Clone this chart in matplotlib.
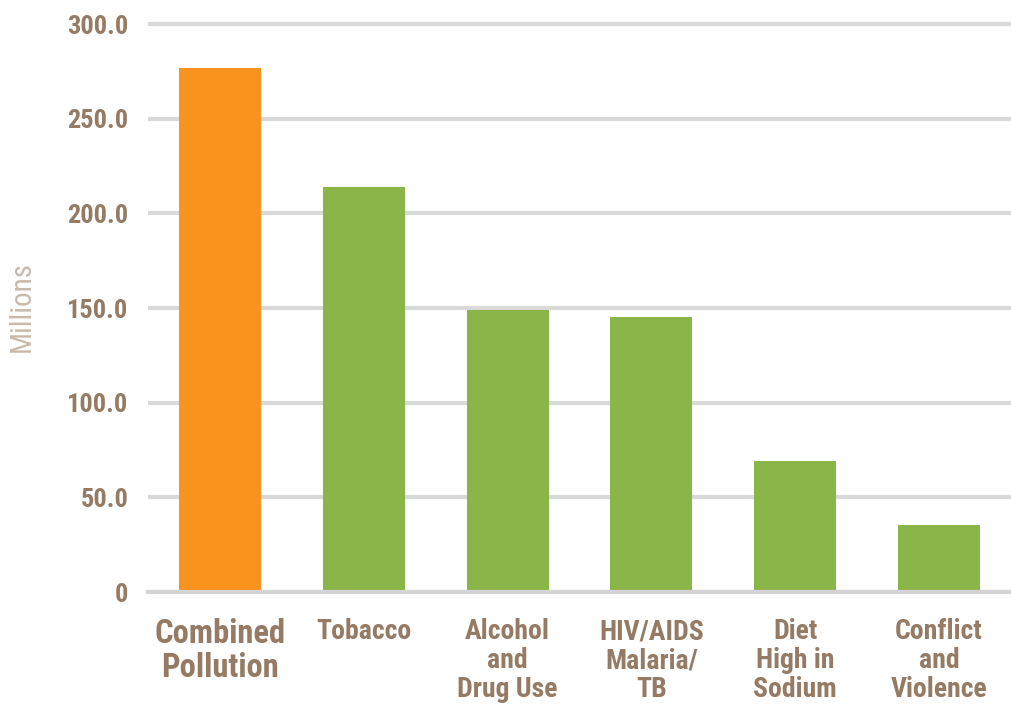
import matplotlib
matplotlib.use("Agg")
import matplotlib.pyplot as plt
from matplotlib import font_manager

categories = ["Combined\nPollution", "Tobacco", "Alcohol\nand\nDrug Use",
              "HIV/AIDS\nMalaria/\nTB", "Diet\nHigh in\nSodium", "Conflict\nand\nViolence"]
deaths = [276.8, 213.7, 149.0, 145.3, 69.2, 35.4]
yticks = [0, 50, 100, 150, 200, 250, 300]
ytick_labels = ["0", "50.0", "100.0", "150.0", "200.0", "250.0", "300.0"]

ORANGE = "#f7931e"
GREEN = "#8ab548"
TEXT = "#957a64"
GRID = "#d9d9d9"

installed = {f.name for f in font_manager.fontManager.ttflist}
condensed = [f for f in ["Roboto Condensed", "Liberation Sans Narrow", "Roboto"] if f in installed]
FONT = condensed[0] if condensed else "DejaVu Sans"

fig = plt.figure(figsize=(10.11, 7.07), dpi=100, facecolor="white")
ax = fig.add_axes([148 / 1011, 115 / 707, 1 - 148 / 1011, (592 - 20) / 707])

colors = [ORANGE] + [GREEN] * (len(deaths) - 1)
ax.bar(range(len(deaths)), deaths, width=0.57, color=colors, zorder=3)

ax.set_xlim(-0.5, len(deaths) - 0.5)
ax.set_ylim(0, 300 * 572 / 568)
ax.set_yticks(yticks)
ax.set_yticklabels(ytick_labels, fontfamily=FONT, fontweight="bold", fontsize=19, color=TEXT)
ax.tick_params(axis="y", length=0, pad=14)
ax.grid(axis="y", color=GRID, linewidth=3, zorder=0)

ax.set_xticks(range(len(deaths)))
ax.set_xticklabels(categories, fontfamily=FONT, fontweight="bold", fontsize=20,
                   color=TEXT, linespacing=1.08, va="top")
ax.get_xticklabels()[0].set_fontsize(23.5)
ax.tick_params(axis="x", length=0, pad=19)

for name, spine in ax.spines.items():
    spine.set_visible(name == "bottom")
ax.spines["bottom"].set_color("#d4d4d4")
ax.spines["bottom"].set_linewidth(3)
ax.spines["bottom"].set_zorder(4)

fig.text(22 / 1011, 1 - 307 / 707, "Millions", rotation=90, ha="center", va="center",
         fontfamily=FONT, fontsize=21, color="#c9b9aa")

fig.savefig("out.png", dpi=100, facecolor="white")
